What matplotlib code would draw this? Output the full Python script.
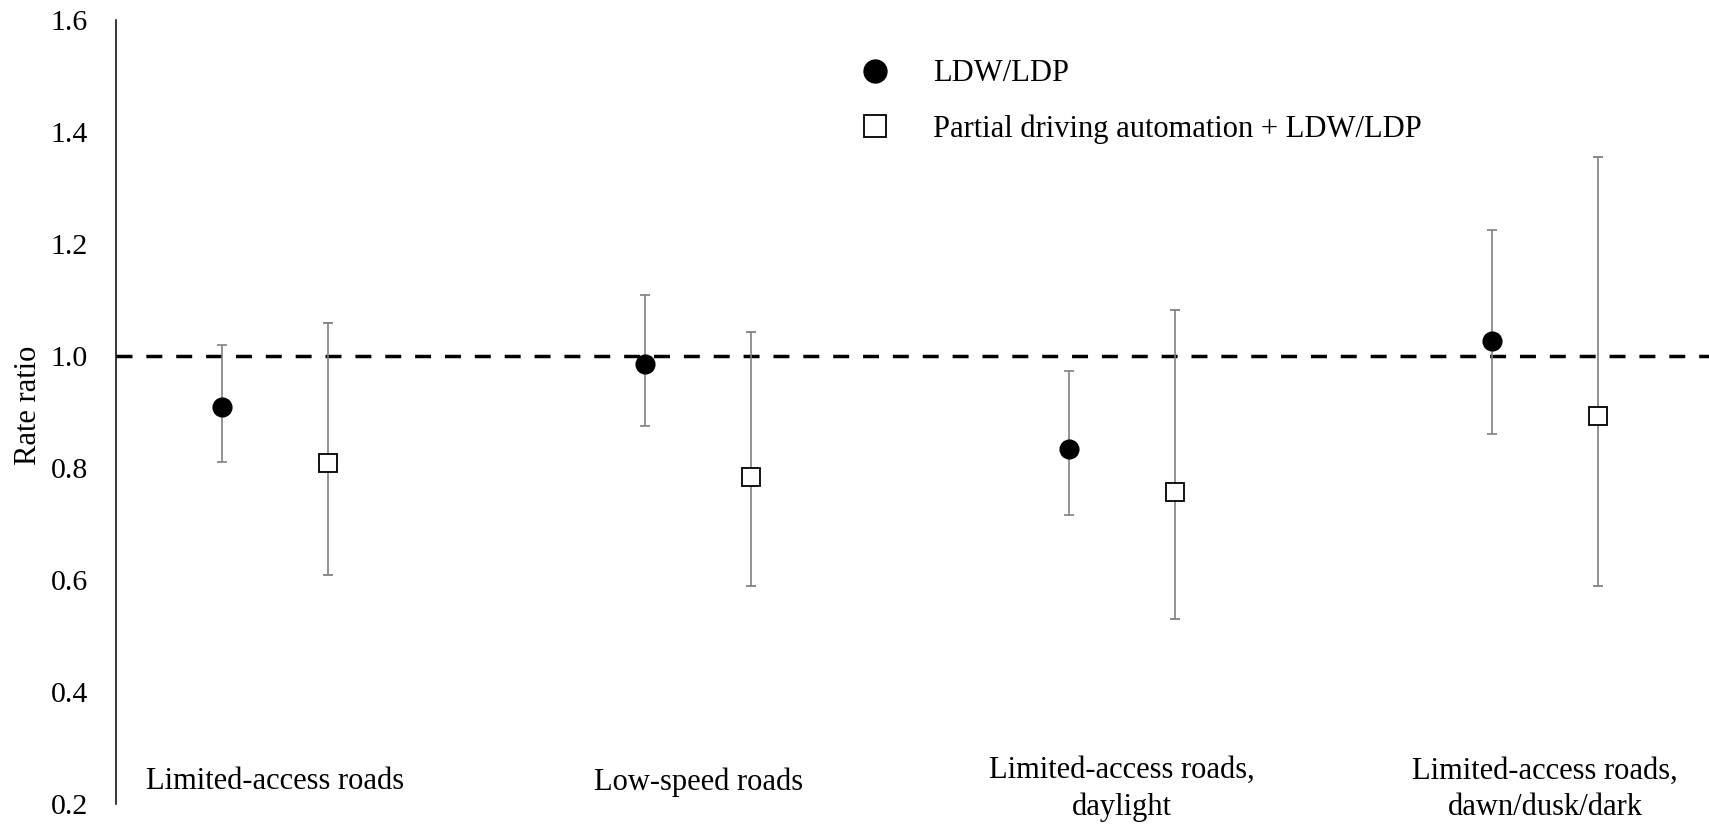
import matplotlib
matplotlib.use("Agg")
import matplotlib.pyplot as plt
from matplotlib.lines import Line2D
import numpy as np

plt.rcParams['font.family'] = ['Liberation Serif', 'DejaVu Serif']

# data
categories = ["Limited-access roads", "Low-speed roads",
              "Limited-access roads,\ndaylight",
              "Limited-access roads,\ndawn/dusk/dark"]
ldw = [0.910, 0.986, 0.835, 1.028]
ldw_lo = [0.811, 0.876, 0.716, 0.862]
ldw_hi = [1.021, 1.110, 0.974, 1.225]
pda = [0.810, 0.784, 0.758, 0.894]
pda_lo = [0.610, 0.589, 0.530, 0.589]
pda_hi = [1.060, 1.043, 1.083, 1.356]
yticks = [0.2, 0.4, 0.6, 0.8, 1.0, 1.2, 1.4, 1.6]

fig = plt.figure(figsize=(17.09, 8.24), dpi=100)
ax = fig.add_axes([0.0677, 0.0239, 0.9323, 0.9515])

x = np.arange(len(categories))
off = 0.125

# reference line at 1
ax.axhline(1.0, color='black', lw=2.5, dashes=(4.6, 4.0), zorder=1)

ldw = np.array(ldw)
pda = np.array(pda)
ax.errorbar(x - off, ldw, yerr=[ldw - np.array(ldw_lo), np.array(ldw_hi) - ldw],
            fmt='o', color='black', ms=13.5, ecolor='#808080', elinewidth=1.2,
            capsize=3.8, capthick=1.2, zorder=3)
ax.errorbar(x + off, pda, yerr=[pda - np.array(pda_lo), np.array(pda_hi) - pda],
            fmt='s', mfc='white', mec='black', mew=1.3, ms=12.5,
            ecolor='#808080', elinewidth=1.2, capsize=3.8, capthick=1.2, zorder=3)

# category labels sit inside the plot near the bottom
for i, lab in enumerate(categories):
    ly = 0.227 if '\n' in lab else 0.240
    ax.text(i, ly, lab, ha='center', va='center', fontsize=22, linespacing=1.35)

ax.set_xlim(-0.3754, 3.387)
ax.set_ylim(0.2, 1.6)
ax.set_yticks(yticks)
ax.set_yticklabels([f"{t:.1f}" for t in yticks], fontsize=21.5)
ax.set_xticks([])
ax.tick_params(axis='y', length=0, pad=20)
for s in ['top', 'right', 'bottom']:
    ax.spines[s].set_visible(False)
ax.spines['left'].set_linewidth(1.1)

ax.set_ylabel("Rate ratio", fontsize=22)
ax.yaxis.set_label_coords(-0.0455, 0.509)

handles = [
    Line2D([], [], ls='none', marker='o', color='black', ms=16.5),
    Line2D([], [], ls='none', marker='s', mfc='white', mec='black', mew=1.3, ms=15.5),
]
fig.legend(handles, ["LDW/LDP", "Partial driving automation + LDW/LDP"],
           loc='center left', bbox_to_anchor=(0.503, 0.8768), frameon=False,
           fontsize=22, handlelength=1.0, handletextpad=1.40, labelspacing=0.85,
           borderpad=0, borderaxespad=0)

fig.savefig("out.png", dpi=100)
